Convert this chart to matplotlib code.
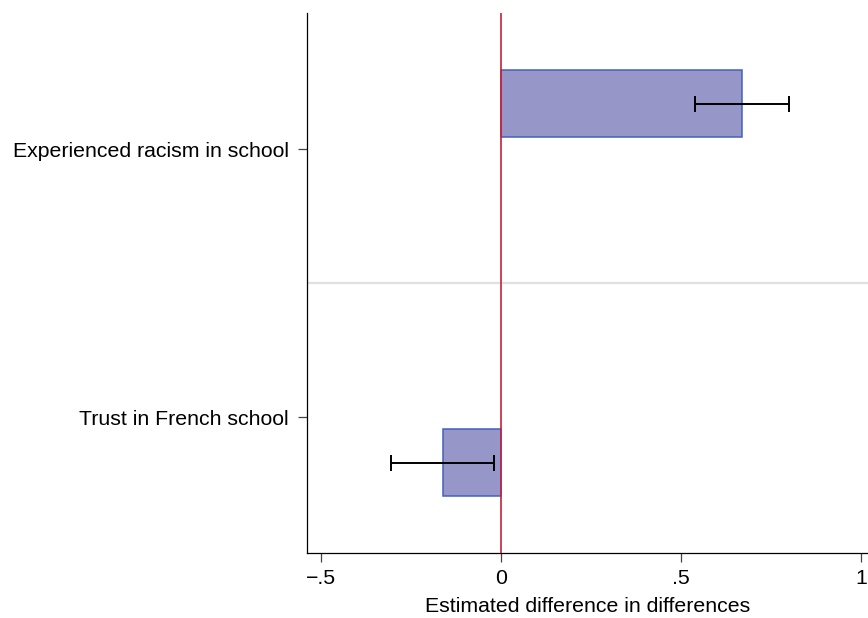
import numpy as np
import matplotlib
matplotlib.use("Agg")
import matplotlib.pyplot as plt

plt.rcParams["font.family"] = ["Liberation Sans", "DejaVu Sans"]

labels = ["Trust in French school", "Experienced racism in school"]
estimates = [-0.160, 0.668]
ci_low = [-0.306, 0.539]
ci_high = [-0.019, 0.801]
bar_pos = [0.83, 2.17]
tick_pos = [1, 2]

fig = plt.figure(figsize=(8.68, 6.18), dpi=100)
ax = fig.add_axes([0.354, 0.1047, 0.646, 0.874])

ax.barh(bar_pos, estimates, height=0.25, color="#9696c8", edgecolor="#4660bb", linewidth=1.1, zorder=2)
lo = np.array(ci_low)
hi = np.array(ci_high)
ax.errorbar((lo + hi) / 2, bar_pos, xerr=(hi - lo) / 2, fmt="none", ecolor="black",
            elinewidth=1.4, capsize=5.5, capthick=1.4, zorder=3)
ax.axvline(0, color="#c8203a", linewidth=1.2, zorder=4)
ax.axhline(1.5, color="#e0e0e0", linewidth=1.6, zorder=1)

ax.set_xlim(-0.538, 1.019)
ax.set_ylim(0.493, 2.507)
ax.set_xticks([-0.5, 0, 0.5, 1])
ax.set_xticklabels(["\u2212.5", "0", ".5", "1"])
ax.set_yticks(tick_pos)
ax.set_yticklabels(labels)
ax.set_xlabel("Estimated difference in differences", fontsize=15.3, labelpad=7)

for s in ["top", "right"]:
    ax.spines[s].set_visible(False)
for s in ["left", "bottom"]:
    ax.spines[s].set_linewidth(0.9)
ax.tick_params(axis="both", labelsize=15.3, length=6.5, width=0.9, color="#444444", direction="out")
ax.tick_params(axis="y", pad=7)
ax.tick_params(axis="x", pad=4.5)

fig.savefig("out.png", dpi=100)
